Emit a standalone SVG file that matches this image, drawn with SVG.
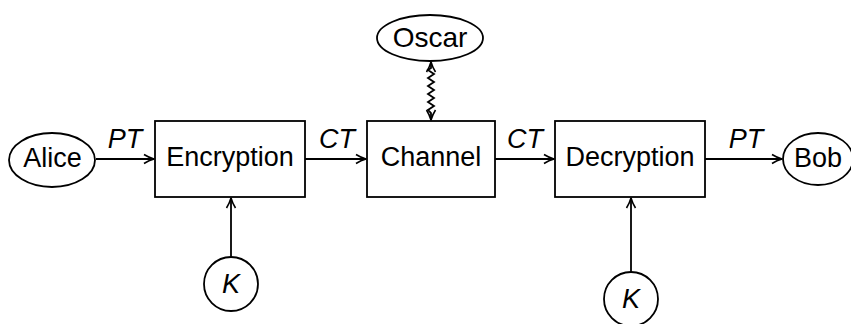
<svg xmlns="http://www.w3.org/2000/svg" width="851" height="324" viewBox="0 0 851 324">
  <defs>
    <marker id="arr" viewBox="0 0 12 12" refX="11" refY="6" markerWidth="12" markerHeight="12" markerUnits="userSpaceOnUse" orient="auto-start-reverse">
      <path d="M1,1.5 Q6,4.6 11,6 Q6,7.4 1,10.5" fill="none" stroke="#000" stroke-width="1.6" stroke-linejoin="round"/>
    </marker>
  </defs>
  <style>
    .shape { fill: #fff; stroke: #000; stroke-width: 1.8; }
    .wire { fill: none; stroke: #000; stroke-width: 1.8; }
    .lbl { font-family: "Liberation Sans", Arial, sans-serif; font-size: 27px; fill: #000; text-anchor: middle; }
    .it { font-style: italic; }
  </style>
  <rect width="851" height="324" fill="#fff"/>

  <!-- arrows and their labels -->
  <g id="connectors">
    <line class="wire" x1="96" y1="159" x2="154" y2="159" marker-end="url(#arr)"/>
    <line class="wire" x1="305" y1="159" x2="366" y2="159" marker-end="url(#arr)"/>
    <line class="wire" x1="495" y1="159" x2="554" y2="159" marker-end="url(#arr)"/>
    <line class="wire" x1="705" y1="159" x2="782" y2="159" marker-end="url(#arr)"/>
    <line class="wire" x1="231" y1="257" x2="231" y2="198" marker-end="url(#arr)"/>
    <line class="wire" x1="631" y1="272" x2="631" y2="198" marker-end="url(#arr)"/>
    <!-- eavesdropper link: snake line with heads at both ends -->
    <polyline class="wire" points="431,62 431,68 428,70 434,74 428,78 434,82 428,86 434,90 428,94 434,98 428,102 434,106 428,110 431,113 431,120" marker-start="url(#arr)" marker-end="url(#arr)"/>
    <text class="lbl it" x="125" y="148">PT</text>
    <text class="lbl it" x="337" y="148">CT</text>
    <text class="lbl it" x="525" y="148">CT</text>
    <text class="lbl it" x="746" y="148">PT</text>
  </g>

  <g id="alice">
    <ellipse class="shape" cx="52" cy="160" rx="43" ry="27"/>
    <text class="lbl" x="52.5" y="167">Alice</text>
  </g>
  <g id="encryption">
    <rect class="shape" x="155" y="121" width="150" height="76"/>
    <text class="lbl" x="230" y="166">Encryption</text>
  </g>
  <g id="channel">
    <rect class="shape" x="367" y="121" width="128" height="76"/>
    <text class="lbl" x="431" y="166">Channel</text>
  </g>
  <g id="decryption">
    <rect class="shape" x="555" y="121" width="150" height="76"/>
    <text class="lbl" x="630" y="166">Decryption</text>
  </g>
  <g id="bob">
    <ellipse class="shape" cx="818" cy="159" rx="35" ry="26"/>
    <text class="lbl" x="818" y="167">Bob</text>
  </g>
  <g id="oscar">
    <ellipse class="shape" cx="430" cy="38" rx="53" ry="23"/>
    <text class="lbl" x="430" y="47" style="font-size:28px">Oscar</text>
  </g>
  <g id="key-enc">
    <circle class="shape" cx="231" cy="284" r="27"/>
    <text class="lbl it" x="231" y="293">K</text>
  </g>
  <g id="key-dec">
    <circle class="shape" cx="631" cy="299" r="27"/>
    <text class="lbl it" x="631" y="308">K</text>
  </g>
</svg>
